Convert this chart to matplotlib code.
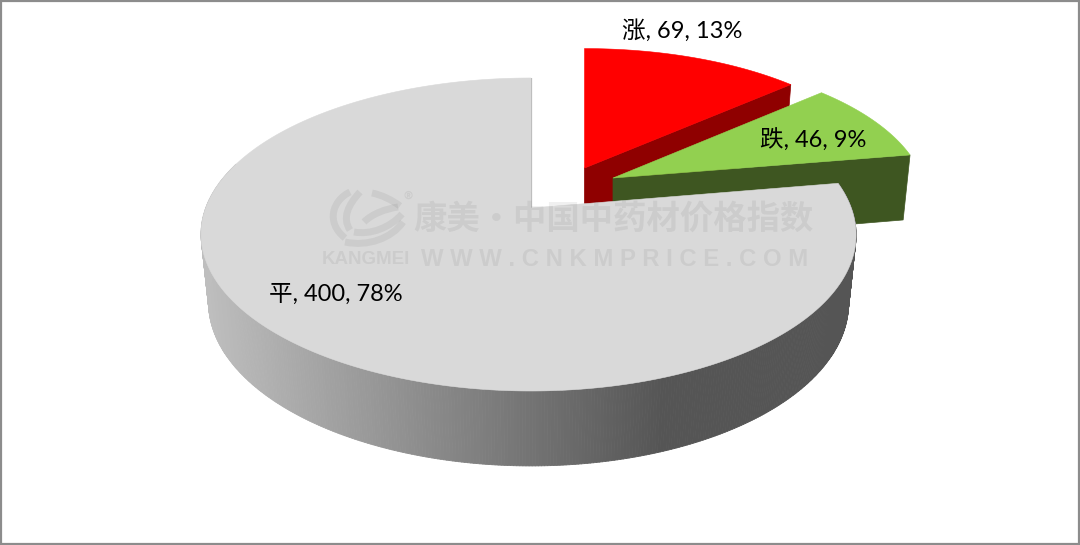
import numpy as np
import matplotlib
matplotlib.use("Agg")
import matplotlib.pyplot as plt
from matplotlib.patches import Polygon, Rectangle, PathPatch
from matplotlib.collections import PolyCollection
from matplotlib.path import Path

plt.rcParams['font.family'] = ['Lato', 'Noto Sans CJK SC', 'DejaVu Sans']

names = ['涨', '跌', '平']
values = [69, 46, 400]
percents = ['13%', '9%', '78%']

top_colors = ['#ff0000', '#92d050', '#d9d9d9']
wall_colors = ['#8f0000', '#3e5621', '#555555']

# exploded offset of each slice: pixels sideways, disc units in depth
shift_x = [53.5, 82, 0]
shift_v = [-0.275, -0.204, 0.0]

# perspective of the top disc, in pixels
cx = 528.5
R = 322.8
ka = 116.8
kb = 208.0
kc = -0.1693


def top_xy(u, v):
    w = 1 + kc * v
    return cx + R * u / w + 2.5 * (1 - u ** 2), (ka * v + kb) / w


def bottom_xy(u, v):
    x, y = top_xy(u, v)
    return cx + (x - cx) * 0.977, y * 1.042 + 58.5


fig = plt.figure(figsize=(10.8, 5.45), dpi=100)
ax = fig.add_axes([0, 0, 1, 1])
ax.set_xlim(0, 1080)
ax.set_ylim(545, 0)
ax.axis('off')

total = sum(values)
edges = np.concatenate([[0], np.cumsum(values)]) / total * 2 * np.pi


def draw_slice(i):
    a = np.linspace(edges[i], edges[i + 1], 600)
    u = np.sin(a)
    v = -np.cos(a) + shift_v[i]
    v0 = shift_v[i]
    dx = shift_x[i]

    # the two small slices only show their cut face
    if i < 2:
        xt, yt = top_xy(np.array([0, u[-1]]), np.array([v0, v[-1]]))
        xb, yb = bottom_xy(np.array([0, u[-1]]), np.array([v0, v[-1]]))
        pts = list(zip(xt + dx, yt)) + list(zip(xb + dx, yb))[::-1]
        ax.add_patch(Polygon(pts, closed=True, fc=wall_colors[i], ec=wall_colors[i], lw=0.5, zorder=i + 1))
    else:
        # outer wall of the big slice, only the part that can be seen
        xt, yt = top_xy(u, v)
        xb, yb = bottom_xy(u, v)
        quads = []
        cols = []
        for k in range(len(a) - 1):
            if -np.cos(a[k]) < -0.3:
                continue
            quads.append([(xt[k], yt[k]), (xt[k + 1], yt[k + 1]), (xb[k + 1], yb[k + 1]), (xb[k], yb[k])])
            t = np.clip((xt[k] - 205) / (665 - 205), 0, 1)
            g = (0xbe + (0x55 - 0xbe) * t) / 255
            cols.append((g, g, g))
        ax.add_collection(PolyCollection(quads, facecolors=cols, edgecolors=cols, linewidths=0.6, zorder=i + 1))

    # top face
    x, y = top_xy(np.concatenate([[0], u]), np.concatenate([[v0], v]))
    ax.add_patch(Polygon(list(zip(x + dx, y)), closed=True, fc=top_colors[i], ec=top_colors[i], lw=0.4, zorder=i + 1.5))


for i in range(3):
    draw_slice(i)

# thin edge of the big slice where it is cut
x0, y0 = top_xy(0, 0)
x1, y1 = top_xy(0, -1)
ax.plot([x0, x1], [y0, y1], color='#b4b4b4', lw=1.6, zorder=3.2, solid_capstyle='butt')

# watermark
wm = dict(color='black', alpha=0.06, zorder=5, fontweight='bold')
ax.text(613.5, 219, '康美·中国中药材价格指数', fontsize=24, ha='center', va='center',
        family=['Noto Sans CJK SC'], **wm)
ax.text(365.5, 259.5, 'KANGMEI', fontsize=13.5, ha='center', va='center',
        family=['Liberation Sans'], **wm)
ax.text(615, 259.5, 'W W W . C N K M P R I C E . C O M', fontsize=17.2, ha='center', va='center',
        family=['Liberation Sans'], **wm)
ax.text(408, 196, '®', fontsize=8, ha='center', va='center', family=['DejaVu Sans'], **wm)

logo_paths = [
    [(350, 192), (333, 200), (325, 222), (345, 238)],
    [(360, 192), (348, 205), (342, 218), (350, 230)],
    [(345, 242), (368, 247), (392, 238), (403, 222)],
    [(354, 232), (370, 235), (390, 228), (402, 214)],
    [(372, 193), (382, 195), (392, 200), (400, 206)],
    [(398, 207), (385, 209), (372, 214), (364, 222)],
]
for p in logo_paths:
    path = Path(p, [Path.MOVETO, Path.CURVE4, Path.CURVE4, Path.CURVE4])
    ax.add_patch(PathPatch(path, fc='none', ec='black', alpha=0.06, lw=5, zorder=5))

# data labels
label_x = [682, 813, 336]
label_y = [30, 140, 294]
for i in range(3):
    ax.text(label_x[i], label_y[i], f'{names[i]}, {values[i]}, {percents[i]}', fontsize=17,
            ha='center', va='center', color='black', zorder=6)

ax.add_patch(Rectangle((0.75, 0.75), 1078.5, 543.5, fc='none', ec='#8c8c8c', lw=1.6, zorder=7))

fig.savefig('out.png', dpi=100)
